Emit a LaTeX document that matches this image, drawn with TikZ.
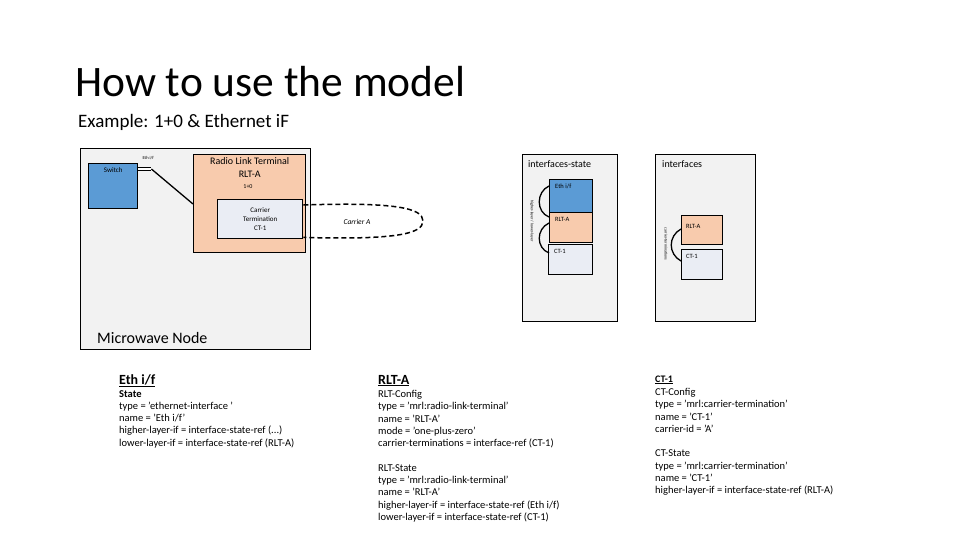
\documentclass[tikz,border=0pt]{standalone}
\usepackage{fontspec}
\setmainfont{Carlito}
\usetikzlibrary{positioning,calc}
\definecolor{nodegray}{RGB}{242,242,242}
\definecolor{rltfill}{RGB}{248,203,173}
\definecolor{ethfill}{RGB}{91,155,213}
\definecolor{ctfill}{RGB}{234,237,244}

\begin{document}
\begin{tikzpicture}[x=1pt, y=-1pt,
    box/.style={draw, line width=1.4pt, inner sep=0pt, anchor=north west},
    small/.style={inner sep=0pt, font=\fontsize{7}{9}\selectfont, align=center},
    tiny/.style={inner sep=0pt, font=\fontsize{6.5}{8}\selectfont},
    vlabel/.style={inner sep=0pt, font=\fontsize{4}{5}\selectfont, rotate=-90},
    link/.style={line width=1.3pt},
    head/.style={inner sep=0pt, anchor=base west, font=\fontsize{14}{16}\selectfont\bfseries},
    body/.style={inner sep=0pt, align=left, font=\fontsize{10.5}{12.3}\selectfont}
]
    \useasboundingbox (0,0) rectangle (960,540);

    % Title
    \node[inner sep=0pt, anchor=base west, font=\fontsize{43.5}{50}\selectfont] (title) at (75,97) {How to use the model};
    \node[inner sep=0pt, anchor=base west, font=\fontsize{19}{22}\selectfont] (subtitle) at (78,128) {Example: 1+0 \& Ethernet iF};

    % Microwave node
    \node[box, fill=nodegray, minimum width=230, minimum height=201] (mwnode) at (80,148) {};
    \node[inner sep=0pt, anchor=west, font=\fontsize{16}{18}\selectfont] (mwlabel) at (97,338) {Microwave Node};

    \node[box, fill=ethfill, minimum width=49, minimum height=45] (switch) at (88,163) {};
    \node[small, below=4pt of switch.north] (switchlabel) {Switch};

    \node[box, fill=rltfill, minimum width=112, minimum height=98] (rlta) at (193,154) {};
    \node[small, font=\fontsize{10}{13}\selectfont, below=3pt of rlta.north] (rltlabel) {Radio Link Terminal\\RLT-A};
    \node[small, font=\fontsize{6}{7}\selectfont] (mode) at (248,187) {1+0};

    \node[box, fill=ctfill, minimum width=85, minimum height=39] (ct) at (217,199) {};
    \node[small, font=\fontsize{7}{9}\selectfont] (ctlabel) at (ct.center) {Carrier\\Termination\\CT-1};

    % Ethernet port and cable
    \coordinate (port) at ($(switch.north east)+(13,6)$);
    \draw[line width=0.6pt, double, double distance=2pt] ($(switch.north east)+(0,6)$) -- (port);
    \node[small, font=\fontsize{4.5}{5}\selectfont, anchor=south west] (portlabel) at ($(switch.north east)+(4,-3)$) {Eth i/f};
    \draw[link] (port) -- ($(rlta.north west)+(0,50)$);

    % Carrier
    \node[small, font=\fontsize{7.5}{9}\selectfont\itshape] (carrier) at (357,222) {Carrier A};
    \coordinate (ctop) at ($(ct.north east)+(0,6)$);
    \coordinate (cbot) at ($(ct.south east)+(0,-2)$);
    \coordinate (cfar) at (423,221);
    \draw[line width=1.5pt, dash pattern=on 5pt off 3pt] (ctop) .. controls (395,202) and (423,208) .. (cfar) .. controls (423,234) and (395,240) .. (cbot);

    % interfaces-state
    \node[box, fill=nodegray, minimum width=95, minimum height=167] (state) at (522,154) {};
    \node[inner sep=0pt, anchor=west, font=\fontsize{10}{12}\selectfont] (statelabel) at (528,164) {interfaces-state};
    \node[box, fill=ethfill, minimum width=43, minimum height=33] (sEth) at (549,179) {};
    \node[box, fill=rltfill, minimum width=43, minimum height=30] (sRLT) at (549,212) {};
    \node[box, fill=ctfill, minimum width=44, minimum height=30] (sCT) at (548,244) {};
    \node[tiny, below right=5pt and 6pt of sEth.north west] (sEthlabel) {Eth i/f};
    \node[tiny, below right=5pt and 6pt of sRLT.north west] (sRLTlabel) {RLT-A};
    \node[tiny, below right=5pt and 6pt of sCT.north west] (sCTlabel) {CT-1};
    \draw[link] ($(sEth.north west)+(0,7)$) .. controls (536,192) and (536,212) .. ($(sRLT.north west)+(0,5)$);
    \draw[link] ($(sRLT.north west)+(0,11)$) .. controls (536,229) and (536,248) .. ($(sCT.north west)+(1,9)$);
    \node[vlabel] (statevl) at (532,221) {higher-layer / lower-layer};

    % interfaces
    \node[box, fill=nodegray, minimum width=100, minimum height=167] (config) at (655,154) {};
    \node[inner sep=0pt, anchor=west, font=\fontsize{10}{12}\selectfont] (configlabel) at (662,164) {interfaces};
    \node[box, fill=rltfill, minimum width=41, minimum height=29] (cRLT) at (681,215) {};
    \node[box, fill=ctfill, minimum width=41, minimum height=30] (cCT) at (681,249) {};
    \node[tiny, below right=9pt and 5pt of cRLT.north west] (cRLTlabel) {RLT-A};
    \node[tiny, below right=5pt and 5pt of cCT.north west] (cCTlabel) {CT-1};
    \draw[link] ($(cRLT.north west)+(0,14)$) .. controls (668,236) and (668,254) .. ($(cCT.north west)+(0,12)$);
    \node[vlabel] (configvl) at (666,244) {carrier-terminations};

    % Eth i/f details
    \node[head] (ethhead) at (119,384) {\underline{Eth i/f}};
    \node[body, below right=6pt and 0pt of ethhead.base west] (ethbody) {\textbf{State}\\
        type = 'ethernet-interface '\\
        name = 'Eth i/f'\\
        higher-layer-if = interface-state-ref (...)\\
        lower-layer-if = interface-state-ref (RLT-A)};

    % RLT-A details
    \node[head] (rlthead) at (378,384) {\underline{RLT-A}};
    \node[body, below right=6pt and 0pt of rlthead.base west] (rltbody) {RLT-Config\\
        type = 'mrl:radio-link-terminal'\\
        name = 'RLT-A'\\
        mode = 'one-plus-zero'\\
        carrier-terminations = interface-ref (CT-1)\\[12.3pt]
        RLT-State\\
        type = 'mrl:radio-link-terminal'\\
        name = 'RLT-A'\\
        higher-layer-if = interface-state-ref (Eth i/f)\\
        lower-layer-if = interface-state-ref (CT-1)};

    % CT-1 details
    \node[head, font=\fontsize{10}{12}\selectfont\bfseries] (cthead) at (655,382) {\underline{CT-1}};
    \node[body, below right=6pt and 0pt of cthead.base west] (ctbody) {CT-Config\\
        type = 'mrl:carrier-termination'\\
        name = 'CT-1'\\
        carrier-id = 'A'\\[12.3pt]
        CT-State\\
        type = 'mrl:carrier-termination'\\
        name = 'CT-1'\\
        higher-layer-if = interface-state-ref (RLT-A)};
\end{tikzpicture}
\end{document}
